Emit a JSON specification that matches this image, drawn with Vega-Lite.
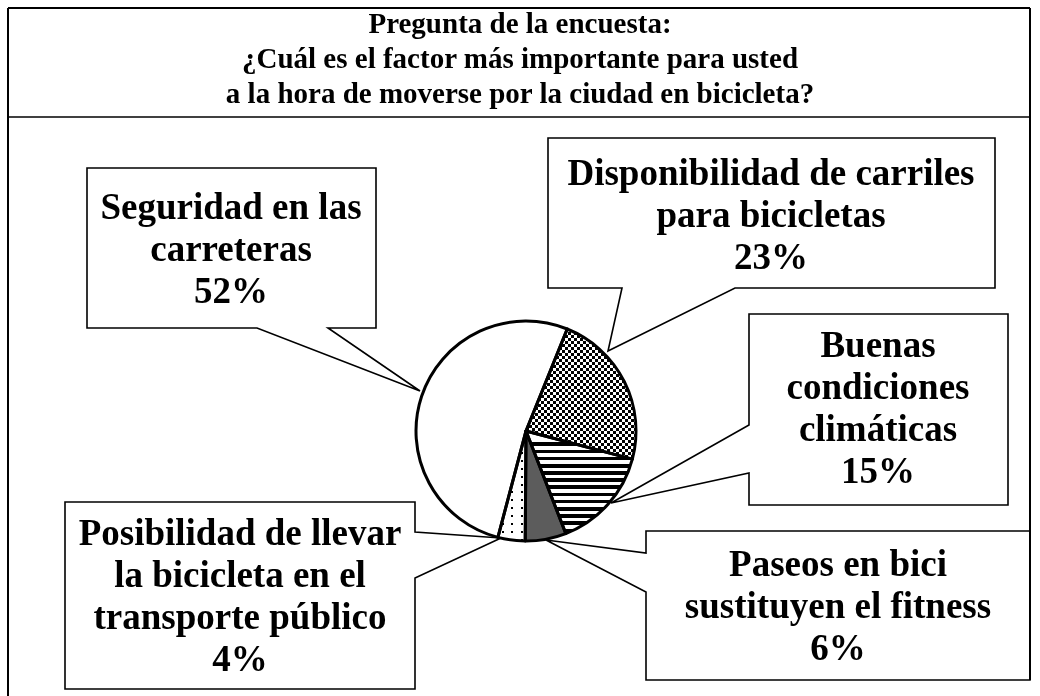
{
  "$schema": "https://vega.github.io/schema/vega-lite/v6.json",
  "width": 1028,
  "height": 530,
  "autosize": {"type": "none"},
  "padding": {"left": 12, "top": 166, "right": 0, "bottom": 0},
  "background": "white",
  "config": {"view": {"stroke": null}},
  "datasets": {
    "slices": [
      {"k": "Disponibilidad", "v": 23, "o": 1},
      {"k": "Buenas", "v": 15, "o": 2},
      {"k": "Paseos", "v": 6, "o": 3},
      {"k": "Posibilidad", "v": 4, "o": 4},
      {"k": "Seguridad", "v": 52, "o": 5}
    ],
    "frame": [
      {"x": 8, "y": 8, "x2": 8, "y2": 696},
      {"x": 1030, "y": 8, "x2": 1030, "y2": 680},
      {"x": 8, "y": 8, "x2": 1030, "y2": 8}
    ],
    "sep": [
      {"x": 8, "y": 117, "x2": 1030, "y2": 117}
    ],
    "callouts": [
      {"b": "seg", "i": 0, "x": 87, "y": 168},
      {"b": "seg", "i": 1, "x": 376, "y": 168},
      {"b": "seg", "i": 2, "x": 376, "y": 328},
      {"b": "seg", "i": 3, "x": 328, "y": 328},
      {"b": "seg", "i": 4, "x": 420, "y": 391},
      {"b": "seg", "i": 5, "x": 257, "y": 328},
      {"b": "seg", "i": 6, "x": 87, "y": 328},
      {"b": "dis", "i": 0, "x": 548, "y": 138},
      {"b": "dis", "i": 1, "x": 995, "y": 138},
      {"b": "dis", "i": 2, "x": 995, "y": 288},
      {"b": "dis", "i": 3, "x": 735, "y": 288},
      {"b": "dis", "i": 4, "x": 608, "y": 351},
      {"b": "dis", "i": 5, "x": 622, "y": 288},
      {"b": "dis", "i": 6, "x": 548, "y": 288},
      {"b": "bue", "i": 0, "x": 749, "y": 314},
      {"b": "bue", "i": 1, "x": 1008, "y": 314},
      {"b": "bue", "i": 2, "x": 1008, "y": 505},
      {"b": "bue", "i": 3, "x": 749, "y": 505},
      {"b": "bue", "i": 4, "x": 749, "y": 473},
      {"b": "bue", "i": 5, "x": 611, "y": 503},
      {"b": "bue", "i": 6, "x": 749, "y": 425},
      {"b": "pas", "i": 0, "x": 646, "y": 531},
      {"b": "pas", "i": 1, "x": 1030, "y": 531},
      {"b": "pas", "i": 2, "x": 1030, "y": 680},
      {"b": "pas", "i": 3, "x": 646, "y": 680},
      {"b": "pas", "i": 4, "x": 646, "y": 592},
      {"b": "pas", "i": 5, "x": 546, "y": 540},
      {"b": "pas", "i": 6, "x": 646, "y": 553},
      {"b": "pos", "i": 0, "x": 65, "y": 502},
      {"b": "pos", "i": 1, "x": 415, "y": 502},
      {"b": "pos", "i": 2, "x": 415, "y": 532},
      {"b": "pos", "i": 3, "x": 501, "y": 538},
      {"b": "pos", "i": 4, "x": 415, "y": 578},
      {"b": "pos", "i": 5, "x": 415, "y": 689},
      {"b": "pos", "i": 6, "x": 65, "y": 689}
    ],
    "labels": [
      {"k": "seg", "t": "Seguridad en las\ncarreteras\n52%", "x": 231, "y": 219},
      {"k": "dis", "t": "Disponibilidad de carriles\npara bicicletas\n23%", "x": 771, "y": 185},
      {"k": "bue", "t": "Buenas\ncondiciones\nclimáticas\n15%", "x": 878, "y": 357},
      {"k": "pas", "t": "Paseos en bici\nsustituyen el fitness\n6%", "x": 838, "y": 576},
      {"k": "pos", "t": "Posibilidad de llevar\nla bicicleta en el\ntransporte público\n4%", "x": 240, "y": 545}
    ],
    "title": [
      {"t": "Pregunta de la encuesta:\n¿Cuál es el factor más importante para usted\na la hora de moverse por la ciudad en bicicleta?", "x": 520, "y": 33}
    ]
  },
  "layer": [
    {
      "data": {"name": "frame"},
      "mark": {"type": "rule", "color": "#000", "strokeWidth": 2},
      "encoding": {
        "x": {"field": "x", "type": "quantitative", "axis": null, "scale": {"domain": [12, 1040], "nice": false, "zero": false}},
        "y": {"field": "y", "type": "quantitative", "axis": null, "scale": {"domain": [166, 696], "reverse": true, "nice": false, "zero": false}},
        "x2": {"field": "x2"},
        "y2": {"field": "y2"}
      }
    },
    {
      "data": {"name": "sep"},
      "mark": {"type": "rule", "color": "#000", "strokeWidth": 1.5},
      "encoding": {
        "x": {"field": "x", "type": "quantitative", "axis": null},
        "y": {"field": "y", "type": "quantitative", "axis": null},
        "x2": {"field": "x2"},
        "y2": {"field": "y2"}
      }
    },
    {
      "data": {"name": "slices"},
      "mark": {"type": "arc", "radius": 110},
      "encoding": {
        "theta": {"field": "v", "type": "quantitative", "scale": {"range": [0.384, 6.6672]}},
        "order": {"field": "o"},
        "fill": {
          "condition": [
            {"test": "datum.k === 'Disponibilidad'", "value": {"gradient": "linear", "x1": 0, "y1": 0, "x2": 0, "y2": 1, "stops": [
              {"offset": 0, "color": "#000"}, {"offset": 0.0231, "color": "#000"}, {"offset": 0.0231, "color": "#fff"}, {"offset": 0.0461, "color": "#fff"},
              {"offset": 0.0461, "color": "#000"}, {"offset": 0.0692, "color": "#000"}, {"offset": 0.0692, "color": "#fff"}, {"offset": 0.0922, "color": "#fff"},
              {"offset": 0.0922, "color": "#000"}, {"offset": 0.1153, "color": "#000"}, {"offset": 0.1153, "color": "#fff"}, {"offset": 0.1384, "color": "#fff"},
              {"offset": 0.1384, "color": "#000"}, {"offset": 0.1614, "color": "#000"}, {"offset": 0.1614, "color": "#fff"}, {"offset": 0.1845, "color": "#fff"},
              {"offset": 0.1845, "color": "#000"}, {"offset": 0.2075, "color": "#000"}, {"offset": 0.2075, "color": "#fff"}, {"offset": 0.2306, "color": "#fff"},
              {"offset": 0.2306, "color": "#000"}, {"offset": 0.2537, "color": "#000"}, {"offset": 0.2537, "color": "#fff"}, {"offset": 0.2767, "color": "#fff"},
              {"offset": 0.2767, "color": "#000"}, {"offset": 0.2998, "color": "#000"}, {"offset": 0.2998, "color": "#fff"}, {"offset": 0.3229, "color": "#fff"},
              {"offset": 0.3229, "color": "#000"}, {"offset": 0.3459, "color": "#000"}, {"offset": 0.3459, "color": "#fff"}, {"offset": 0.3690, "color": "#fff"},
              {"offset": 0.3690, "color": "#000"}, {"offset": 0.3920, "color": "#000"}, {"offset": 0.3920, "color": "#fff"}, {"offset": 0.4151, "color": "#fff"},
              {"offset": 0.4151, "color": "#000"}, {"offset": 0.4382, "color": "#000"}, {"offset": 0.4382, "color": "#fff"}, {"offset": 0.4612, "color": "#fff"},
              {"offset": 0.4612, "color": "#000"}, {"offset": 0.4843, "color": "#000"}, {"offset": 0.4843, "color": "#fff"}, {"offset": 0.5073, "color": "#fff"},
              {"offset": 0.5073, "color": "#000"}, {"offset": 0.5304, "color": "#000"}, {"offset": 0.5304, "color": "#fff"}, {"offset": 0.5535, "color": "#fff"},
              {"offset": 0.5535, "color": "#000"}, {"offset": 0.5765, "color": "#000"}, {"offset": 0.5765, "color": "#fff"}, {"offset": 0.5996, "color": "#fff"},
              {"offset": 0.5996, "color": "#000"}, {"offset": 0.6226, "color": "#000"}, {"offset": 0.6226, "color": "#fff"}, {"offset": 0.6457, "color": "#fff"},
              {"offset": 0.6457, "color": "#000"}, {"offset": 0.6688, "color": "#000"}, {"offset": 0.6688, "color": "#fff"}, {"offset": 0.6918, "color": "#fff"},
              {"offset": 0.6918, "color": "#000"}, {"offset": 0.7149, "color": "#000"}, {"offset": 0.7149, "color": "#fff"}, {"offset": 0.7380, "color": "#fff"},
              {"offset": 0.7380, "color": "#000"}, {"offset": 0.7610, "color": "#000"}, {"offset": 0.7610, "color": "#fff"}, {"offset": 0.7841, "color": "#fff"},
              {"offset": 0.7841, "color": "#000"}, {"offset": 0.8071, "color": "#000"}, {"offset": 0.8071, "color": "#fff"}, {"offset": 0.8302, "color": "#fff"},
              {"offset": 0.8302, "color": "#000"}, {"offset": 0.8533, "color": "#000"}, {"offset": 0.8533, "color": "#fff"}, {"offset": 0.8763, "color": "#fff"},
              {"offset": 0.8763, "color": "#000"}, {"offset": 0.8994, "color": "#000"}, {"offset": 0.8994, "color": "#fff"}, {"offset": 0.9224, "color": "#fff"},
              {"offset": 0.9224, "color": "#000"}, {"offset": 0.9455, "color": "#000"}, {"offset": 0.9455, "color": "#fff"}, {"offset": 0.9686, "color": "#fff"},
              {"offset": 0.9686, "color": "#000"}, {"offset": 0.9916, "color": "#000"}, {"offset": 0.9916, "color": "#fff"}, {"offset": 1, "color": "#fff"}
            ]}},
            {"test": "datum.k === 'Buenas'", "value": {"gradient": "linear", "x1": 0, "y1": 0, "x2": 0, "y2": 1, "stops": [
              {"offset": 0, "color": "#fff"}, {"offset": 0.1121, "color": "#fff"}, {"offset": 0.1121, "color": "#000"}, {"offset": 0.1472, "color": "#000"},
              {"offset": 0.1472, "color": "#fff"}, {"offset": 0.1820, "color": "#fff"}, {"offset": 0.1820, "color": "#000"}, {"offset": 0.2171, "color": "#000"},
              {"offset": 0.2171, "color": "#fff"}, {"offset": 0.2519, "color": "#fff"}, {"offset": 0.2519, "color": "#000"}, {"offset": 0.2869, "color": "#000"},
              {"offset": 0.2869, "color": "#fff"}, {"offset": 0.3217, "color": "#fff"}, {"offset": 0.3217, "color": "#000"}, {"offset": 0.3568, "color": "#000"},
              {"offset": 0.3568, "color": "#fff"}, {"offset": 0.3916, "color": "#fff"}, {"offset": 0.3916, "color": "#000"}, {"offset": 0.4267, "color": "#000"},
              {"offset": 0.4267, "color": "#fff"}, {"offset": 0.4615, "color": "#fff"}, {"offset": 0.4615, "color": "#000"}, {"offset": 0.4966, "color": "#000"},
              {"offset": 0.4966, "color": "#fff"}, {"offset": 0.5314, "color": "#fff"}, {"offset": 0.5314, "color": "#000"}, {"offset": 0.5665, "color": "#000"},
              {"offset": 0.5665, "color": "#fff"}, {"offset": 0.6013, "color": "#fff"}, {"offset": 0.6013, "color": "#000"}, {"offset": 0.6364, "color": "#000"},
              {"offset": 0.6364, "color": "#fff"}, {"offset": 0.6711, "color": "#fff"}, {"offset": 0.6711, "color": "#000"}, {"offset": 0.7062, "color": "#000"},
              {"offset": 0.7062, "color": "#fff"}, {"offset": 0.7410, "color": "#fff"}, {"offset": 0.7410, "color": "#000"}, {"offset": 0.7761, "color": "#000"},
              {"offset": 0.7761, "color": "#fff"}, {"offset": 0.8109, "color": "#fff"}, {"offset": 0.8109, "color": "#000"}, {"offset": 0.8460, "color": "#000"},
              {"offset": 0.8460, "color": "#fff"}, {"offset": 0.8808, "color": "#fff"}, {"offset": 0.8808, "color": "#000"}, {"offset": 0.9159, "color": "#000"},
              {"offset": 0.9159, "color": "#fff"}, {"offset": 0.9507, "color": "#fff"}, {"offset": 0.9507, "color": "#000"}, {"offset": 0.9858, "color": "#000"},
              {"offset": 0.9858, "color": "#fff"}, {"offset": 1, "color": "#fff"}
            ]}},
            {"test": "datum.k === 'Paseos'", "value": "#5c5c5c"},
            {"test": "datum.k === 'Posibilidad'", "value": {"gradient": "linear", "x1": 0, "y1": 0, "x2": 1, "y2": 0, "stops": [
              {"offset": 0, "color": "#fff"}, {"offset": 0.142, "color": "#fff"}, {"offset": 0.142, "color": "#000"}, {"offset": 0.213, "color": "#000"},
              {"offset": 0.213, "color": "#fff"}, {"offset": 0.477, "color": "#fff"}, {"offset": 0.477, "color": "#000"}, {"offset": 0.548, "color": "#000"},
              {"offset": 0.548, "color": "#fff"}, {"offset": 0.811, "color": "#fff"}, {"offset": 0.811, "color": "#000"}, {"offset": 0.882, "color": "#000"},
              {"offset": 0.882, "color": "#fff"}, {"offset": 1, "color": "#fff"}
            ]}}
          ],
          "value": "#ffffff"
        }
      }
    },
    {
      "data": {"name": "slices"},
      "mark": {"type": "arc", "radius": 110, "blend": "difference"},
      "encoding": {
        "theta": {"field": "v", "type": "quantitative", "scale": {"range": [0.384, 6.6672]}},
        "order": {"field": "o"},
        "fill": {
          "condition": [
            {"test": "datum.k === 'Disponibilidad'", "value": {"gradient": "linear", "x1": 0, "y1": 0, "x2": 1, "y2": 0, "stops": [
              {"offset": 0, "color": "#fff"}, {"offset": 0.0273, "color": "#fff"}, {"offset": 0.0273, "color": "#000"}, {"offset": 0.0545, "color": "#000"},
              {"offset": 0.0545, "color": "#fff"}, {"offset": 0.0818, "color": "#fff"}, {"offset": 0.0818, "color": "#000"}, {"offset": 0.1091, "color": "#000"},
              {"offset": 0.1091, "color": "#fff"}, {"offset": 0.1364, "color": "#fff"}, {"offset": 0.1364, "color": "#000"}, {"offset": 0.1636, "color": "#000"},
              {"offset": 0.1636, "color": "#fff"}, {"offset": 0.1909, "color": "#fff"}, {"offset": 0.1909, "color": "#000"}, {"offset": 0.2182, "color": "#000"},
              {"offset": 0.2182, "color": "#fff"}, {"offset": 0.2455, "color": "#fff"}, {"offset": 0.2455, "color": "#000"}, {"offset": 0.2727, "color": "#000"},
              {"offset": 0.2727, "color": "#fff"}, {"offset": 0.3000, "color": "#fff"}, {"offset": 0.3000, "color": "#000"}, {"offset": 0.3273, "color": "#000"},
              {"offset": 0.3273, "color": "#fff"}, {"offset": 0.3545, "color": "#fff"}, {"offset": 0.3545, "color": "#000"}, {"offset": 0.3818, "color": "#000"},
              {"offset": 0.3818, "color": "#fff"}, {"offset": 0.4091, "color": "#fff"}, {"offset": 0.4091, "color": "#000"}, {"offset": 0.4364, "color": "#000"},
              {"offset": 0.4364, "color": "#fff"}, {"offset": 0.4636, "color": "#fff"}, {"offset": 0.4636, "color": "#000"}, {"offset": 0.4909, "color": "#000"},
              {"offset": 0.4909, "color": "#fff"}, {"offset": 0.5182, "color": "#fff"}, {"offset": 0.5182, "color": "#000"}, {"offset": 0.5455, "color": "#000"},
              {"offset": 0.5455, "color": "#fff"}, {"offset": 0.5727, "color": "#fff"}, {"offset": 0.5727, "color": "#000"}, {"offset": 0.6000, "color": "#000"},
              {"offset": 0.6000, "color": "#fff"}, {"offset": 0.6273, "color": "#fff"}, {"offset": 0.6273, "color": "#000"}, {"offset": 0.6545, "color": "#000"},
              {"offset": 0.6545, "color": "#fff"}, {"offset": 0.6818, "color": "#fff"}, {"offset": 0.6818, "color": "#000"}, {"offset": 0.7091, "color": "#000"},
              {"offset": 0.7091, "color": "#fff"}, {"offset": 0.7364, "color": "#fff"}, {"offset": 0.7364, "color": "#000"}, {"offset": 0.7636, "color": "#000"},
              {"offset": 0.7636, "color": "#fff"}, {"offset": 0.7909, "color": "#fff"}, {"offset": 0.7909, "color": "#000"}, {"offset": 0.8182, "color": "#000"},
              {"offset": 0.8182, "color": "#fff"}, {"offset": 0.8455, "color": "#fff"}, {"offset": 0.8455, "color": "#000"}, {"offset": 0.8727, "color": "#000"},
              {"offset": 0.8727, "color": "#fff"}, {"offset": 0.9000, "color": "#fff"}, {"offset": 0.9000, "color": "#000"}, {"offset": 0.9273, "color": "#000"},
              {"offset": 0.9273, "color": "#fff"}, {"offset": 0.9545, "color": "#fff"}, {"offset": 0.9545, "color": "#000"}, {"offset": 0.9818, "color": "#000"},
              {"offset": 0.9818, "color": "#fff"}, {"offset": 1, "color": "#fff"}
            ]}}
          ],
          "value": "#000000"
        }
      }
    },
    {
      "data": {"name": "slices"},
      "mark": {"type": "arc", "radius": 110, "blend": "lighten"},
      "encoding": {
        "theta": {"field": "v", "type": "quantitative", "scale": {"range": [0.384, 6.6672]}},
        "order": {"field": "o"},
        "fill": {
          "condition": [
            {"test": "datum.k === 'Posibilidad'", "value": {"gradient": "linear", "x1": 0, "y1": 0, "x2": 0, "y2": 1, "stops": [
              {"offset": 0, "color": "#fff"}, {"offset": 0.0491, "color": "#fff"}, {"offset": 0.0491, "color": "#000"}, {"offset": 0.0673, "color": "#000"},
              {"offset": 0.0673, "color": "#fff"}, {"offset": 0.1205, "color": "#fff"}, {"offset": 0.1205, "color": "#000"}, {"offset": 0.1387, "color": "#000"},
              {"offset": 0.1387, "color": "#fff"}, {"offset": 0.1920, "color": "#fff"}, {"offset": 0.1920, "color": "#000"}, {"offset": 0.2102, "color": "#000"},
              {"offset": 0.2102, "color": "#fff"}, {"offset": 0.2635, "color": "#fff"}, {"offset": 0.2635, "color": "#000"}, {"offset": 0.2816, "color": "#000"},
              {"offset": 0.2816, "color": "#fff"}, {"offset": 0.3349, "color": "#fff"}, {"offset": 0.3349, "color": "#000"}, {"offset": 0.3531, "color": "#000"},
              {"offset": 0.3531, "color": "#fff"}, {"offset": 0.4064, "color": "#fff"}, {"offset": 0.4064, "color": "#000"}, {"offset": 0.4245, "color": "#000"},
              {"offset": 0.4245, "color": "#fff"}, {"offset": 0.4778, "color": "#fff"}, {"offset": 0.4778, "color": "#000"}, {"offset": 0.4960, "color": "#000"},
              {"offset": 0.4960, "color": "#fff"}, {"offset": 0.5493, "color": "#fff"}, {"offset": 0.5493, "color": "#000"}, {"offset": 0.5675, "color": "#000"},
              {"offset": 0.5675, "color": "#fff"}, {"offset": 0.6207, "color": "#fff"}, {"offset": 0.6207, "color": "#000"}, {"offset": 0.6389, "color": "#000"},
              {"offset": 0.6389, "color": "#fff"}, {"offset": 0.6922, "color": "#fff"}, {"offset": 0.6922, "color": "#000"}, {"offset": 0.7104, "color": "#000"},
              {"offset": 0.7104, "color": "#fff"}, {"offset": 0.7636, "color": "#fff"}, {"offset": 0.7636, "color": "#000"}, {"offset": 0.7818, "color": "#000"},
              {"offset": 0.7818, "color": "#fff"}, {"offset": 0.8351, "color": "#fff"}, {"offset": 0.8351, "color": "#000"}, {"offset": 0.8533, "color": "#000"},
              {"offset": 0.8533, "color": "#fff"}, {"offset": 0.9065, "color": "#fff"}, {"offset": 0.9065, "color": "#000"}, {"offset": 0.9247, "color": "#000"},
              {"offset": 0.9247, "color": "#fff"}, {"offset": 0.9780, "color": "#fff"}, {"offset": 0.9780, "color": "#000"}, {"offset": 0.9962, "color": "#000"},
              {"offset": 0.9962, "color": "#fff"}, {"offset": 1, "color": "#fff"}
            ]}}
          ],
          "value": "#000000"
        }
      }
    },
    {
      "data": {"name": "slices"},
      "mark": {"type": "arc", "radius": 110, "fill": "transparent", "stroke": "#000", "strokeWidth": 3, "strokeJoin": "round"},
      "encoding": {
        "theta": {"field": "v", "type": "quantitative", "scale": {"range": [0.384, 6.6672]}},
        "order": {"field": "o"}
      }
    },
    {
      "data": {"name": "callouts"},
      "mark": {"type": "line", "interpolate": "linear-closed", "color": "#000", "strokeWidth": 1.6, "strokeJoin": "miter"},
      "encoding": {
        "x": {"field": "x", "type": "quantitative", "axis": null},
        "y": {"field": "y", "type": "quantitative", "axis": null},
        "detail": {"field": "b"},
        "order": {"field": "i"}
      }
    },
    {
      "data": {"name": "labels"},
      "mark": {"type": "text", "align": "center", "baseline": "alphabetic", "font": "Liberation Serif", "fontWeight": "bold", "fontSize": 37, "lineHeight": 42, "lineBreak": "\n", "color": "#000"},
      "encoding": {
        "x": {"field": "x", "type": "quantitative", "axis": null},
        "y": {"field": "y", "type": "quantitative", "axis": null},
        "text": {"field": "t"}
      }
    },
    {
      "data": {"name": "title"},
      "mark": {"type": "text", "align": "center", "baseline": "alphabetic", "font": "Liberation Serif", "fontWeight": "bold", "fontSize": 29, "lineHeight": 35, "lineBreak": "\n", "color": "#000"},
      "encoding": {
        "x": {"field": "x", "type": "quantitative", "axis": null},
        "y": {"field": "y", "type": "quantitative", "axis": null},
        "text": {"field": "t"}
      }
    }
  ]
}
